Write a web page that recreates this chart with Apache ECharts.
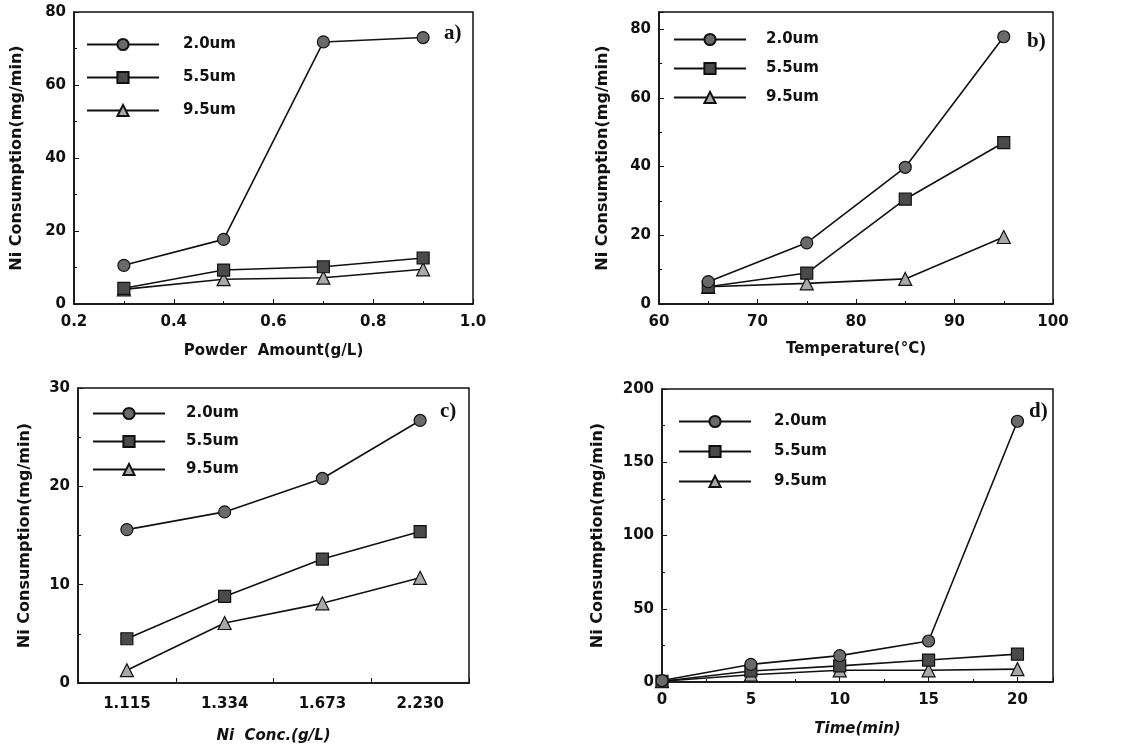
<!DOCTYPE html>
<html>
<head>
<meta charset="utf-8">
<script src="https://cdn.jsdelivr.net/npm/echarts@6/dist/echarts.min.js"></script>
<style>
html, body { margin: 0; padding: 0; background: #fff; }
#chart { width: 1128px; height: 752px; }
</style>
</head>
<body>
<div id="chart"></div>
<script>
// particle sizes (legend names)
const sizeNames = ['2.0um', '5.5um', '9.5um']

// a) powder amount (g/L)
const powderAmount = [0.3, 0.5, 0.7, 0.9]
const powder_2_0 = [10.6, 17.7, 71.8, 73.0]
const powder_5_5 = [4.3, 9.3, 10.2, 12.6]
const powder_9_5 = [4.0, 6.8, 7.2, 9.5]

// b) temperature (C)
const temperature = [65, 75, 85, 95]
const temp_2_0 = [6.5, 17.8, 39.8, 77.8]
const temp_5_5 = [5.0, 9.0, 30.5, 47.0]
const temp_9_5 = [5.0, 6.0, 7.3, 19.5]

// c) Ni concentration (g/L), evenly spaced categories
const niConc = ['1.115', '1.334', '1.673', '2.230']
const conc_2_0 = [15.6, 17.4, 20.8, 26.7]
const conc_5_5 = [4.5, 8.8, 12.6, 15.4]
const conc_9_5 = [1.3, 6.1, 8.1, 10.7]

// d) time (min)
const time = [0, 5, 10, 15, 20]
const time_2_0 = [1.0, 12.0, 18.0, 28.0, 178.0]
const time_5_5 = [0.5, 7.5, 11.0, 15.0, 19.0]
const time_9_5 = [0.5, 5.0, 8.0, 8.0, 8.8]

const ink = '#111'
const tickFont = { color: ink, fontFamily: 'DejaVu Sans', fontWeight: 'bold', fontSize: 15 }
const titleFont = { color: ink, fontFamily: 'DejaVu Sans', fontWeight: 'bold', fontSize: 16 }

const markers = [
  { symbol: 'circle', symbolSize: 12, fill: '#6a6a6a' },
  { symbol: 'rect', symbolSize: 12, fill: '#4a4a4a' },
  { symbol: 'triangle', symbolSize: 13, fill: '#a8a8a8' }
]

function mkSeries(idx, gi, xs, ys) {
  const m = markers[idx]
  return {
    name: sizeNames[idx],
    type: 'line',
    xAxisIndex: gi,
    yAxisIndex: gi,
    symbol: m.symbol,
    symbolSize: m.symbolSize,
    showAllSymbol: true,
    data: xs ? xs.map((x, i) => [x, ys[i]]) : ys,
    lineStyle: { color: ink, width: 1.6 },
    itemStyle: { color: m.fill, borderColor: ink, borderWidth: 1.2 },
    z: 3 - idx
  }
}

function valueX(gi, min, max, interval, showMax, name, gap, italic, fmt) {
  const label = Object.assign({ margin: 11, showMaxLabel: showMax }, tickFont)
  if (fmt) label.formatter = fmt
  return {
    type: 'value', gridIndex: gi, min: min, max: max, interval: interval,
    name: name, nameLocation: 'middle', nameGap: gap,
    nameTextStyle: Object.assign({}, titleFont, { fontSize: 15, fontStyle: italic ? 'italic' : 'normal' }),
    axisLine: { show: true, lineStyle: { color: ink, width: 1.5 } },
    axisTick: { show: true, inside: true, length: 5, lineStyle: { color: ink } },
    minorTick: { show: true, splitNumber: 2, length: 3, lineStyle: { color: ink } },
    splitLine: { show: false },
    axisLabel: label
  }
}

function valueY(gi, max, interval, showMax, gap) {
  return {
    type: 'value', gridIndex: gi, min: 0, max: max, interval: interval,
    name: 'Ni Consumption(mg/min)', nameLocation: 'middle', nameGap: gap,
    nameTextStyle: titleFont,
    axisLine: { show: true, lineStyle: { color: ink, width: 1.5 } },
    axisTick: { show: true, inside: true, length: 5, lineStyle: { color: ink } },
    minorTick: { show: true, splitNumber: 2, length: 3, lineStyle: { color: ink } },
    splitLine: { show: false },
    axisLabel: Object.assign({ margin: 8, showMaxLabel: showMax }, tickFont)
  }
}

function mkLegend(left, top, gap, textPad) {
  return {
    orient: 'vertical', left: left, top: top,
    itemWidth: 72, itemHeight: 14, itemGap: gap,
    selectedMode: false,
    data: sizeNames,
    textStyle: Object.assign({}, tickFont, { padding: [0, 0, 0, textPad] })
  }
}

const gridBox = { show: true, borderColor: ink, borderWidth: 1.5, backgroundColor: 'transparent' }
const tagFont = 'bold 21px "Liberation Serif"'

const chart = echarts.init(document.getElementById('chart'))

const option = {
  animation: false,
  backgroundColor: '#fff',
  grid: [
    Object.assign({ left: 74, top: 12, width: 399, height: 292 }, gridBox),
    Object.assign({ left: 659, top: 12, width: 394, height: 292 }, gridBox),
    Object.assign({ left: 78, top: 388, width: 391, height: 295 }, gridBox),
    Object.assign({ left: 662, top: 389, width: 391, height: 293 }, gridBox)
  ],
  xAxis: [
    valueX(0, 0.2, 1.0, 0.2, true, 'Powder  Amount(g/L)', 40, false, v => v.toFixed(1)),
    valueX(1, 60, 100, 10, true, 'Temperature(°C)', 38, false),
    {
      type: 'category', gridIndex: 2, data: niConc, boundaryGap: true,
      name: 'Ni  Conc.(g/L)', nameLocation: 'middle', nameGap: 46,
      nameTextStyle: Object.assign({}, titleFont, { fontSize: 15, fontStyle: 'italic' }),
      axisLine: { show: true, lineStyle: { color: ink, width: 1.5 } },
      axisTick: { show: true, inside: true, length: 5, lineStyle: { color: ink } },
      splitLine: { show: false },
      axisLabel: Object.assign({ margin: 14 }, tickFont)
    },
    valueX(3, 0, 22, 5, false, 'Time(min)', 40, true)
  ],
  yAxis: [
    valueY(0, 80, 20, true, 49),
    valueY(1, 85, 20, false, 48),
    valueY(2, 30, 10, true, 45),
    valueY(3, 200, 50, true, 56)
  ],
  legend: [
    mkLegend(81, 32, 18, 19),
    mkLegend(668, 27, 14, 15),
    mkLegend(87, 401, 13, 16),
    mkLegend(673, 409, 15, 18)
  ],
  graphic: [
    { type: 'text', left: 444, top: 23, style: { text: 'a)', font: tagFont, fill: ink } },
    { type: 'text', left: 1027, top: 31, style: { text: 'b)', font: tagFont, fill: ink } },
    { type: 'text', left: 440, top: 401, style: { text: 'c)', font: tagFont, fill: ink } },
    { type: 'text', left: 1029, top: 401, style: { text: 'd)', font: tagFont, fill: ink } }
  ],
  series: [
    mkSeries(0, 0, powderAmount, powder_2_0),
    mkSeries(1, 0, powderAmount, powder_5_5),
    mkSeries(2, 0, powderAmount, powder_9_5),
    mkSeries(0, 1, temperature, temp_2_0),
    mkSeries(1, 1, temperature, temp_5_5),
    mkSeries(2, 1, temperature, temp_9_5),
    mkSeries(0, 2, null, conc_2_0),
    mkSeries(1, 2, null, conc_5_5),
    mkSeries(2, 2, null, conc_9_5),
    mkSeries(0, 3, time, time_2_0),
    mkSeries(1, 3, time, time_5_5),
    mkSeries(2, 3, time, time_9_5)
  ]
}

chart.setOption(option)
</script>
</body>
</html>
